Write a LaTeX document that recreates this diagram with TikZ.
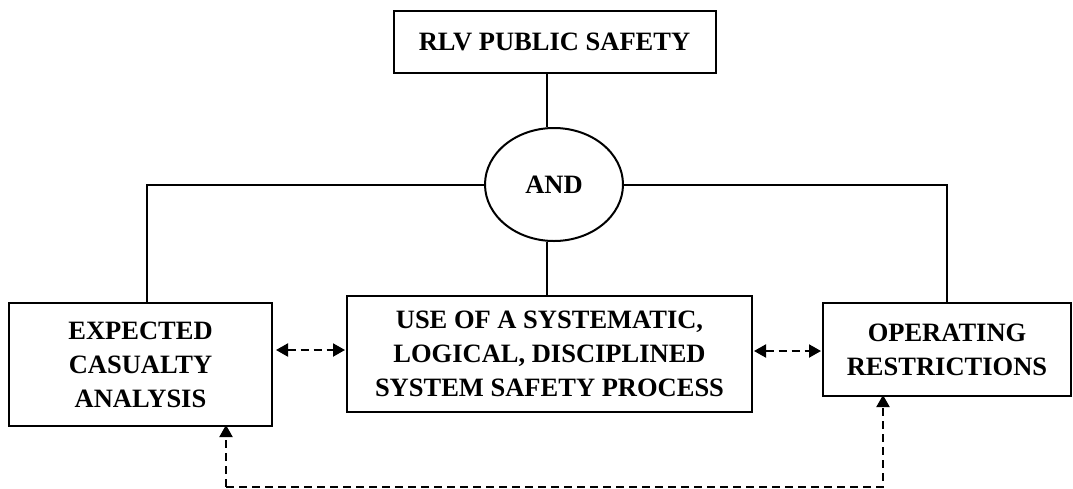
\documentclass[tikz,border=0pt]{standalone}
\usepackage{fontspec}
\setmainfont{Liberation Serif}
\usetikzlibrary{arrows.meta,shapes.geometric}
\begin{document}
\begin{tikzpicture}[x=1pt,y=-1pt,
  lbl/.style={font=\fontsize{26.5}{34}\selectfont\bfseries, align=center},
  boxnode/.style={draw, line width=2pt, lbl, inner sep=0pt},
  conn/.style={line width=2pt},
  tip/.tip={Triangle[length=12pt,width=13pt]},
  dasharrow/.style={line width=2pt, dash pattern=on 8pt off 5pt, -tip},
  dasharrows/.style={line width=2pt, dash pattern=on 8pt off 5pt, tip-tip}
]
\useasboundingbox (0,0) rectangle (1073,488);
\node[boxnode, minimum width=322pt, minimum height=62pt] (top) at (554.5,42) {RLV PUBLIC SAFETY};
\node[draw, ellipse, line width=2pt, lbl, minimum width=138pt, minimum height=113pt, inner sep=0pt] (and) at (554,184.5) {AND};
\node[boxnode, minimum width=405pt, minimum height=116pt] (mid) at (549.5,354) {USE OF A SYSTEMATIC,\\LOGICAL, DISCIPLINED\\SYSTEM SAFETY PROCESS};
\node[boxnode, minimum width=263pt, minimum height=123pt] (left) at (140.5,364.5) {EXPECTED\\CASUALTY\\ANALYSIS};
\node[boxnode, minimum width=248pt, minimum height=93pt] (right) at (947,349.5) {OPERATING\\RESTRICTIONS};

\coordinate (andtop) at ([xshift=-7pt]and.north);
\coordinate (andbot) at ([xshift=-7pt]and.south);
\coordinate (lefttop) at ([xshift=6.5pt]left.north);
\coordinate (corner1) at (226,486.5);
\coordinate (corner2) at (883,486.5);

\draw[conn] (andtop) -- (andtop |- top.south);
\draw[conn] (andbot) -- (andbot |- mid.north);
\draw[conn] (and.west) -| (lefttop);
\draw[conn] (and.east) -| (right.north);

\draw[dasharrows] ([xshift=3pt]left.east |- 0,350) -- ([xshift=-1pt]mid.west |- 0,350);
\draw[dasharrows] ([xshift=1pt]mid.east |- 0,351) -- ([xshift=-1pt]right.west |- 0,351);

\draw[dasharrow] (corner1) -- (corner2) -- ([yshift=2pt]corner2 |- right.south);
\draw[dasharrow] (corner1) -- ([yshift=2pt]corner1 |- left.south);
\end{tikzpicture}
\end{document}
